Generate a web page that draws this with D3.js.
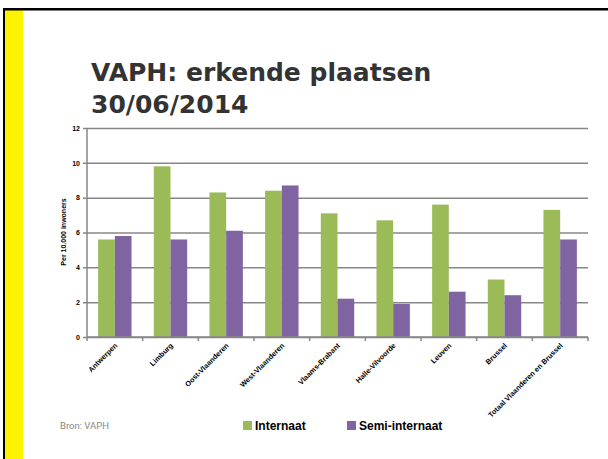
<!DOCTYPE html>
<html>
<head>
<meta charset="utf-8">
<script src="https://cdn.jsdelivr.net/npm/d3@7"></script>
<style>
  html, body { margin: 0; padding: 0; background: #fff; }
  svg { display: block; }
</style>
</head>
<body>
<svg id="chart" width="608" height="459"></svg>
<script>
const categories = ["Antwerpen", "Limburg", "Oost-Vlaanderen", "West-Vlaanderen", "Vlaams-Brabant", "Halle-Vilvoorde", "Leuven", "Brussel", "Totaal Vlaanderen en Brussel"];
const internaat = [5.6, 9.8, 8.3, 8.4, 7.1, 6.7, 7.6, 3.3, 7.3];
const semiInternaat = [5.8, 5.6, 6.1, 8.7, 2.2, 1.9, 2.6, 2.4, 5.6];
const seriesNames = ["Internaat", "Semi-internaat"];
const seriesColors = ["#9BBB59", "#8064A2"];
const yTicks = [0, 2, 4, 6, 8, 10, 12];
const titleLines = ["VAPH: erkende plaatsen", "30/06/2014"];
const yAxisTitle = "Per 10.000 inwoners";
const sourceText = "Bron: VAPH";

const svg = d3.select("#chart");

// slide frame
svg.append("rect").attr("x", 5).attr("y", 10).attr("width", 18).attr("height", 449).attr("fill", "#FFF200");
svg.append("rect").attr("x", 3).attr("y", 8).attr("width", 605).attr("height", 2.5).attr("fill", "#000");
svg.append("rect").attr("x", 3).attr("y", 8).attr("width", 2).attr("height", 451).attr("fill", "#000");

// title
const title = svg.append("text")
  .attr("font-family", "'DejaVu Sans', sans-serif")
  .attr("font-weight", "bold")
  .attr("font-size", 25)
  .attr("fill", "#333");
titleLines.forEach((t, i) => {
  title.append("tspan").attr("x", 91).attr("y", 81 + i * 32).text(t);
});

// plot
const x0 = 87, x1 = 588, yTop = 128, yBot = 337;
const x = d3.scaleBand().domain(categories).range([x0, x1]).paddingInner(0.4).paddingOuter(0.2);
const xStep = d3.scaleBand().domain(categories).range([x0, x1]).padding(0);
const xs = d3.scaleBand().domain(seriesNames).range([0, x.bandwidth()]);
const y = d3.scaleLinear().domain([0, 12]).range([yBot, yTop]);

// gridlines
const yAxis = d3.axisLeft(y).tickValues(yTicks).tickSize(-(x1 - x0)).tickPadding(7);
const gy = svg.append("g").attr("transform", `translate(${x0},0)`).call(yAxis);
gy.select(".domain").remove();
gy.selectAll(".tick line").attr("stroke", "#878787").attr("stroke-width", 1.5).attr("x1", -4);
gy.selectAll(".tick text")
  .attr("font-family", "'Liberation Sans', Arial, sans-serif")
  .attr("font-weight", "bold").attr("font-size", 7).attr("fill", "#000");

// y axis line
svg.append("line").attr("x1", x0).attr("x2", x0).attr("y1", yTop).attr("y2", yBot)
  .attr("stroke", "#878787").attr("stroke-width", 1.5);

// bars
const data = categories.map((c, i) => ({ c, vals: [internaat[i], semiInternaat[i]] }));
const groups = svg.append("g").selectAll("g").data(data).join("g")
  .attr("transform", d => `translate(${x(d.c)},0)`);
groups.selectAll("rect").data(d => d.vals.map((v, j) => ({ v, s: seriesNames[j], j })))
  .join("rect")
  .attr("x", d => xs(d.s))
  .attr("width", xs.bandwidth())
  .attr("y", d => y(d.v))
  .attr("height", d => y(0) - y(d.v))
  .attr("fill", d => seriesColors[d.j]);

// x axis
svg.append("line").attr("x1", x0).attr("x2", x1).attr("y1", yBot).attr("y2", yBot)
  .attr("stroke", "#878787").attr("stroke-width", 1.5);
const boundaries = categories.map(c => xStep(c)).concat([x1]);
svg.append("g").selectAll("line").data(boundaries).join("line")
  .attr("x1", d => d).attr("x2", d => d).attr("y1", yBot).attr("y2", yBot + 4)
  .attr("stroke", "#878787").attr("stroke-width", 1.5);

svg.append("g").selectAll("text").data(categories).join("text")
  .attr("transform", d => `translate(${xStep(d) + xStep.bandwidth() / 2 + 3},${yBot + 9}) rotate(-45)`)
  .attr("text-anchor", "end")
  .attr("font-family", "'Liberation Sans', Arial, sans-serif")
  .attr("font-weight", "bold").attr("font-size", 7.3).attr("fill", "#000")
  .text(d => d);

// y axis title
svg.append("text")
  .attr("transform", `translate(66,232) rotate(-90)`)
  .attr("text-anchor", "middle")
  .attr("font-family", "'Liberation Sans', Arial, sans-serif")
  .attr("font-weight", "bold").attr("font-size", 7).attr("fill", "#000")
  .text(yAxisTitle);

// source
svg.append("text").attr("x", 60).attr("y", 429)
  .attr("font-family", "Roboto, sans-serif").attr("font-size", 9.5).attr("fill", "#888")
  .text(sourceText);

// legend
const legendX = [243, 347];
const lg = svg.append("g").selectAll("g").data(seriesNames).join("g")
  .attr("transform", (d, i) => `translate(${legendX[i]},421)`);
lg.append("rect").attr("width", 9).attr("height", 9).attr("fill", (d, i) => seriesColors[i]);
lg.append("text").attr("x", 12).attr("y", 9)
  .attr("font-family", "'Liberation Sans', Arial, sans-serif")
  .attr("font-weight", "bold").attr("font-size", 12).attr("fill", "#000")
  .text(d => d);
</script>
</body>
</html>
